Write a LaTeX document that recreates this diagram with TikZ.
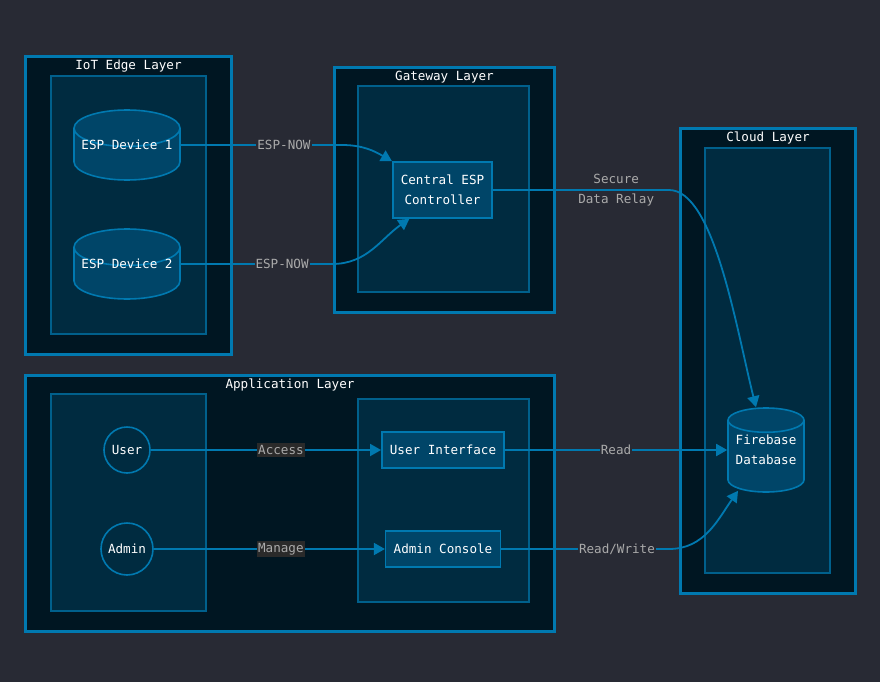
\documentclass[tikz,border=0pt]{standalone}
\usepackage{fontspec}
\setmonofont{DejaVu Sans Mono}
\usetikzlibrary{shapes.geometric,arrows.meta,positioning}

\definecolor{pagebg}{RGB}{40,42,52}
\definecolor{layerfill}{RGB}{0,22,34}
\definecolor{layerline}{RGB}{0,121,176}
\definecolor{groupfill}{RGB}{0,43,64}
\definecolor{groupline}{RGB}{0,96,140}
\definecolor{nodefill}{RGB}{0,69,104}
\definecolor{labtext}{RGB}{170,170,170}
\definecolor{labdark}{RGB}{42,42,42}

\begin{document}
\begin{tikzpicture}[x=1pt,y=-1pt,
    font=\ttfamily\fontsize{12.6}{20}\selectfont, text=white,
    layer/.style={draw=layerline, fill=layerfill, line width=3pt, anchor=north west, inner sep=0},
    group/.style={draw=groupline, fill=groupfill, line width=1.6pt, anchor=north west, inner sep=0},
    title/.style={anchor=north, inner sep=0, yshift=-5pt},
    box/.style={draw=layerline, fill=nodefill, line width=1.6pt, inner xsep=8pt, minimum height=36pt, align=center},
    actor/.style={circle, draw=layerline, fill=groupfill, line width=1.6pt, inner sep=2pt},
    store/.style={cylinder, shape border rotate=90, draw=layerline, fill=nodefill, line width=1.6pt,
        inner sep=0, aspect=0.4, anchor=shape center, align=center},
    flow/.style={draw=layerline, line width=1.8pt, -{Triangle[length=11pt,width=12pt]}},
    lab/.style={text=labtext, fill=pagebg, inner xsep=1pt, inner ysep=2pt},
    labgray/.style={lab, fill=labdark},
]
% background
\fill[pagebg] (0,0) rectangle (880,682);

% layers
\node[layer, minimum width=206pt, minimum height=298pt] (iot) at (24,55) {};
\node[title] at (iot.north) {IoT Edge Layer};
\node[group, minimum width=155pt, minimum height=258pt] (iotin) at (50,75) {};

\node[layer, minimum width=220pt, minimum height=245pt] (gw) at (333,66) {};
\node[title] at (gw.north) {Gateway Layer};
\node[group, minimum width=171pt, minimum height=206pt] (gwin) at (357,85) {};

\node[layer, minimum width=175pt, minimum height=465pt] (cloud) at (679,127) {};
\node[title] at (cloud.north) {Cloud Layer};
\node[group, minimum width=125pt, minimum height=425pt] (cloudin) at (704,147) {};

\node[layer, minimum width=529pt, minimum height=256pt] (app) at (24,374) {};
\node[title] at (app.north) {Application Layer};
\node[group, minimum width=155pt, minimum height=217pt] (users) at (50,393) {};
\node[group, minimum width=171pt, minimum height=203pt] (front) at (357,398) {};

% nodes (cylinder text goes on the shape centre)
\node[store, minimum width=106pt, minimum height=70pt] (esp1) at (127,145) {\phantom{ESP Device 1}};
\node at (esp1.shape center) {ESP Device 1};
\node[store, minimum width=106pt, minimum height=70pt] (esp2) at (127,264) {\phantom{ESP Device 2}};
\node at (esp2.shape center) {ESP Device 2};
\node[box, minimum height=56pt] (ctrl) at (442.5,190) {Central ESP\\Controller};
\node[store, minimum width=76pt, minimum height=84pt] (fb) at (766,450) {\phantom{Firebase}\\\phantom{Database}};
\node[align=center] at (fb.shape center) {Firebase\\Database};
\node[actor, minimum size=46pt] (user) at (127,450) {User};
\node[actor, minimum size=52pt] (admin) at (127,549) {Admin};
\node[box] (ui) at (443,450) {User Interface};
\node[box] (adminc) at (443,549) {Admin Console};

% connections
\draw[flow] (esp1.shape center -| esp1.east) -- node[lab, pos=0.64] {ESP-NOW}
    ([xshift=-50pt]esp1.shape center -| ctrl.west) to[out=0, in=150] (ctrl.north west);
\draw[flow] (esp2.shape center -| esp2.east) -- node[lab, pos=0.67] {ESP-NOW}
    ([xshift=-60pt]esp2.shape center -| ctrl.west) to[out=0, in=215] (ctrl.221);
\draw[flow] (ctrl.east) -- node[lab, fill=none, pos=0.70, align=center] {Secure\\Data Relay}
    ([xshift=-10pt]ctrl.east -| cloud.west) .. controls +(45,0) and +(-20,-80) .. ([xshift=-10pt]fb.north);
\draw[flow] (user) -- node[labgray, pos=0.565] {Access} (ui);
\draw[flow] (admin) -- node[labgray, pos=0.55] {Manage} (adminc);
\draw[flow] (ui) -- node[lab] {Read} (fb.shape center -| fb.west);
\draw[flow] (adminc.east) -- node[lab, pos=0.69] {Read/Write} ([xshift=-10pt]adminc.east -| cloud.west)
    to[out=0, in=235] ([xshift=-28pt,yshift=2pt]fb.south);
\end{tikzpicture}
\end{document}
